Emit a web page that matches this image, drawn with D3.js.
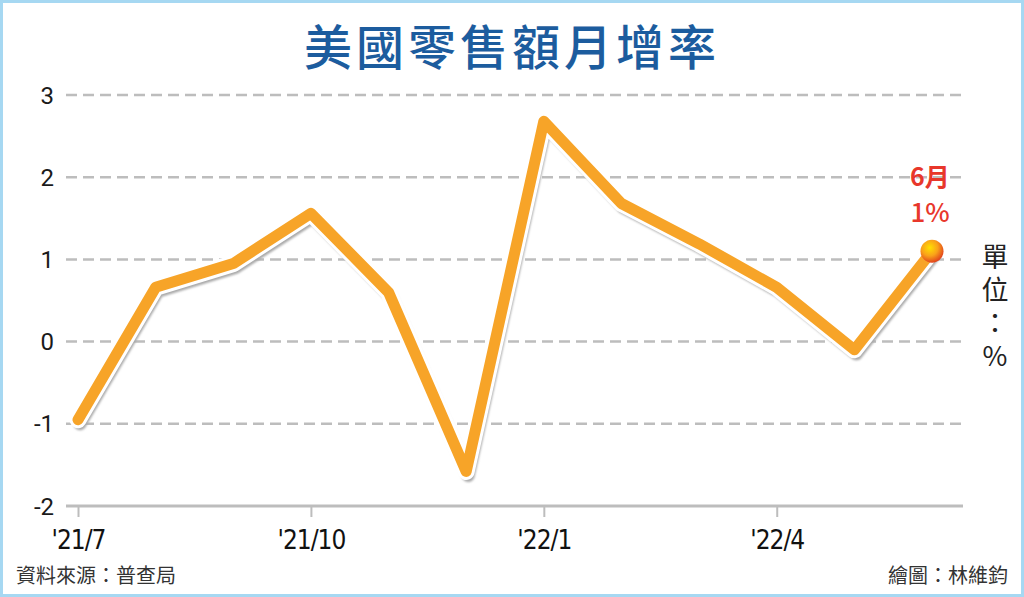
<!DOCTYPE html>
<html><head><meta charset="utf-8">
<script src="https://cdn.jsdelivr.net/npm/d3@7/dist/d3.min.js"></script>
<style>
html,body{margin:0;padding:0;background:#fff;}
svg{display:block;}
</style></head>
<body>
<script>
const months = ["'21/7","'21/8","'21/9","'21/10","'21/11","'21/12","'22/1","'22/2","'22/3","'22/4","'22/5","'22/6"];
const values = [-0.95, 0.66, 0.95, 1.56, 0.6, -1.58, 2.68, 1.68, 1.19, 0.66, -0.1, 1.1];
const yTicks = [3, 2, 1, 0, -1, -2];
const xTickLabels = ["'21/7","'21/10","'22/1","'22/4"];
const title = "美國零售額月增率";
const lastLabel = ["6月", "1%"];
const unitText = "單位：%";
const source = "資料來源：普查局";
const credit = "繪圖：林維鈞";

const W = 1024, H = 597;
const svg = d3.select("body").append("svg").attr("width", W).attr("height", H);

// border
svg.append("rect").attr("x", 1.5).attr("y", 1.5).attr("width", W - 3).attr("height", H - 3)
  .attr("fill", "#fff").attr("stroke", "#a6d8f2").attr("stroke-width", 3);

const defs = svg.append("defs");
const grad = defs.append("radialGradient").attr("id", "ball").attr("cx", "40%").attr("cy", "35%").attr("r", "65%");
grad.append("stop").attr("offset", "0%").attr("stop-color", "#ffe000");
grad.append("stop").attr("offset", "55%").attr("stop-color", "#f9a11a");
grad.append("stop").attr("offset", "100%").attr("stop-color", "#e2461c");
const blur = defs.append("filter").attr("id", "blur").attr("x", "-10%").attr("y", "-10%").attr("width", "120%").attr("height", "120%");
blur.append("feGaussianBlur").attr("stdDeviation", 1.2);

const x = d3.scalePoint().domain(months).range([78, 932]);
const y = d3.scaleLinear().domain([-2, 3]).range([506, 95]);
const gx0 = 66, gx1 = 963;

// title
svg.append("text").attr("x", 512).attr("y", 65).attr("text-anchor", "middle")
  .attr("font-family", "'Noto Sans CJK TC', sans-serif").attr("font-weight", 500)
  .attr("font-size", 48).attr("letter-spacing", 4).attr("fill", "#1c5c9e").text(title);

// gridlines
svg.append("g").selectAll("line").data(yTicks.filter(d => d > -2)).join("line")
  .attr("x1", gx0).attr("x2", gx1).attr("y1", d => y(d)).attr("y2", d => y(d))
  .attr("stroke", "#bdbdbd").attr("stroke-width", 2.5).attr("stroke-dasharray", "11,6");

// y axis labels
svg.append("g").selectAll("text").data(yTicks).join("text")
  .attr("x", 54).attr("y", d => y(d)).attr("dy", "0.36em").attr("text-anchor", "end")
  .attr("font-family", "Roboto, sans-serif").attr("font-size", 24).attr("fill", "#1a1a1a")
  .text(d => d);

// bottom axis
const xAxis = d3.axisBottom(x).tickValues(xTickLabels).tickSize(11).tickPadding(10).tickFormat(d => d);
const ax = svg.append("g").attr("transform", `translate(0,${y(-2)})`).call(xAxis);
ax.select(".domain").remove();
ax.append("line").attr("x1", gx0).attr("x2", gx1).attr("y1", 0).attr("y2", 0)
  .attr("stroke", "#bdbdbd").attr("stroke-width", 3);
ax.selectAll(".tick line").attr("stroke", "#bdbdbd").attr("stroke-width", 2);
ax.selectAll(".tick text").attr("font-family", "'DejaVu Sans Condensed', 'Roboto', sans-serif")
  .attr("font-size", 26).attr("fill", "#111").attr("dy", "0.85em").attr("letter-spacing", -1);

// line
const line = d3.line().x((d, i) => x(months[i])).y(d => y(d)).curve(d3.curveLinear);
svg.append("path").datum(values).attr("d", line).attr("transform", "translate(2,4)")
  .attr("fill", "none").attr("stroke", "#a9a9a9").attr("stroke-width", 13)
  .attr("stroke-linejoin", "round").attr("stroke-linecap", "round").attr("filter", "url(#blur)");
svg.append("path").datum(values).attr("d", line)
  .attr("fill", "none").attr("stroke", "#fff").attr("stroke-width", 17)
  .attr("stroke-linejoin", "round").attr("stroke-linecap", "round");
svg.append("path").datum(values).attr("d", line)
  .attr("fill", "none").attr("stroke", "#f7a428").attr("stroke-width", 11)
  .attr("stroke-linejoin", "round").attr("stroke-linecap", "round");

// end marker
const lastI = values.length - 1;
svg.append("circle").attr("cx", x(months[lastI])).attr("cy", y(values[lastI])).attr("r", 11.5)
  .attr("fill", "url(#ball)");

// labels for last point
svg.append("text").attr("x", x(months[lastI]) - 2).attr("y", 186).attr("text-anchor", "middle")
  .attr("font-family", "'Noto Sans CJK TC', sans-serif").attr("font-weight", 700)
  .attr("font-size", 25).attr("fill", "#e8372b").text(lastLabel[0]);
svg.append("text").attr("x", x(months[lastI]) - 2).attr("y", 222).attr("text-anchor", "middle")
  .attr("font-family", "'Noto Sans CJK TC', sans-serif").attr("font-weight", 500)
  .attr("font-size", 26).attr("fill", "#e8372b").text(lastLabel[1]);

// unit (vertical)
svg.append("text").attr("x", 995).attr("y", 243)
  .style("writing-mode", "vertical-rl").style("text-orientation", "upright")
  .attr("font-family", "'Noto Sans CJK TC', sans-serif").attr("font-size", 27)
  .attr("letter-spacing", 6).attr("fill", "#222")
  .text(unitText);

// footer
svg.append("text").attr("x", 16).attr("y", 583)
  .attr("font-family", "'Noto Sans CJK TC', sans-serif").attr("font-size", 20).attr("fill", "#333")
  .text(source);
svg.append("text").attr("x", 1008).attr("y", 583).attr("text-anchor", "end")
  .attr("font-family", "'Noto Sans CJK TC', sans-serif").attr("font-size", 20).attr("fill", "#333")
  .text(credit);
</script>
</body></html>
